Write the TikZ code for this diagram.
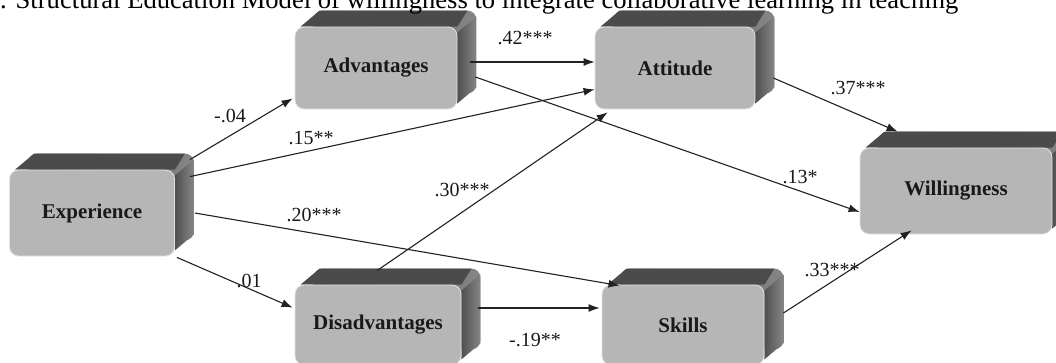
\documentclass[tikz,border=0pt]{standalone}
\usepackage{fontspec}
\setmainfont{Liberation Serif}
\usetikzlibrary{arrows.meta,backgrounds,calc}
\definecolor{faceGray}{HTML}{B6B6B6}
\definecolor{topGray}{HTML}{4B4B4B}
\definecolor{sideDark}{HTML}{505050}
\definecolor{sideLight}{HTML}{868686}
\definecolor{lineGray}{HTML}{222222}
\tikzset{
  front/.style={draw=white!80!gray, fill=faceGray, rounded corners=9pt, line width=0.8pt,
    font=\fontsize{21}{23}\selectfont\bfseries, text=black!90},
  link/.style={-{Latex[length=11pt,width=8pt]}, line width=1.1pt, draw=lineGray},
  coef/.style={font=\fontsize{20}{22}\selectfont, inner sep=1pt, text=black!90}
}

\begin{document}
\begin{tikzpicture}[x=1pt,y=-1pt]
\useasboundingbox (0,0) rectangle (1056,362);

\node[anchor=base west, inner sep=0pt, font=\fontsize{26.6}{28}\selectfont] (title) at (0,8)
  {. Structural Education Model of willingness to integrate collaborative learning in teaching};

% front faces
\node[front, minimum width=165pt, minimum height=86pt] (exp) at (92,213) {Experience};
\node[front, minimum width=162pt, minimum height=82pt] (adv) at (376,68) {Advantages};
\node[front, minimum width=160pt, minimum height=82pt] (att) at (675,68) {Attitude};
\node[front, minimum width=192pt, minimum height=86pt] (wil) at (956,191) {Willingness};
\node[front, minimum width=166pt, minimum height=80pt] (dis) at (378,325) {Disadvantages};
\node[front, minimum width=162pt, minimum height=80pt] (ski) at (683,325) {Skills};

% depth of the boxes
\begin{scope}[on background layer]
\fill[white] (0,0) rectangle (1056,362);
\foreach \b in {exp,adv,att,wil,dis,ski}{
  \shade[left color=sideDark, right color=sideLight, rounded corners=9pt]
    ($(\b.north west)+(19,-16)$) rectangle ($(\b.south east)+(19,-16)$);
  \fill[topGray] ($(\b.north west)+(6,0)$) -- ++(19,-16)
    -- ($(\b.north east)+(10,-16)$) -- (\b.north east) -- cycle;
  \shade[left color=sideDark, right color=sideLight] ($(\b.north east)+(0,6)$) -- ++(19,-16)
    -- ($(\b.south east)+(19,-22)$) -- ($(\b.south east)+(0,-6)$) -- cycle;
}
\end{scope}

% paths
\draw[link] ($(exp.north east)+(15,-10)$) -- ($(adv.south west)+(-2,-11)$);
\draw[link] ($(exp.north east)+(15,7)$) -- ($(att.south west)+(0,-20)$);
\draw[link] ($(exp.east)+(20,0)$) -- ($(ski.north west)+(18,1)$);
\draw[link] ($(exp.south east)+(2,1)$) -- ($(dis.north west)+(-2,23)$);
\draw[link] ($(dis.north)+(-1,-14)$) -- ($(att.south west)+(13,3)$);
\draw[link] ($(adv.east)+(13,-6)$) -- ($(att.west)+(0,-6)$);
\draw[link] ($(adv.east)+(18,9)$) -- ($(wil.west)+(0,21)$);
\draw[link] ($(att.east)+(18,10)$) -- ($(wil.north west)+(38,-16)$);
\draw[link] ($(dis.east)+(17,-17)$) -- ($(ski.west)+(-2,-17)$);
\draw[link] ($(ski.east)+(19,-12)$) -- ($(wil.south west)+(52,-4)$);

% coefficients
\node[coef] (c1) at (230,116) {-.04};
\node[coef] (c2) at (311,138) {.15**};
\node[coef] (c3) at (314,215) {.20***};
\node[coef] (c4) at (249,281) {.01};
\node[coef] (c5) at (462,190) {.30***};
\node[coef] (c6) at (525,38) {.42***};
\node[coef] (c7) at (800,177) {.13*};
\node[coef] (c8) at (858,88) {.37***};
\node[coef] (c9) at (535,340) {-.19**};
\node[coef] (c10) at (832,270) {.33***};
\end{tikzpicture}
\end{document}
